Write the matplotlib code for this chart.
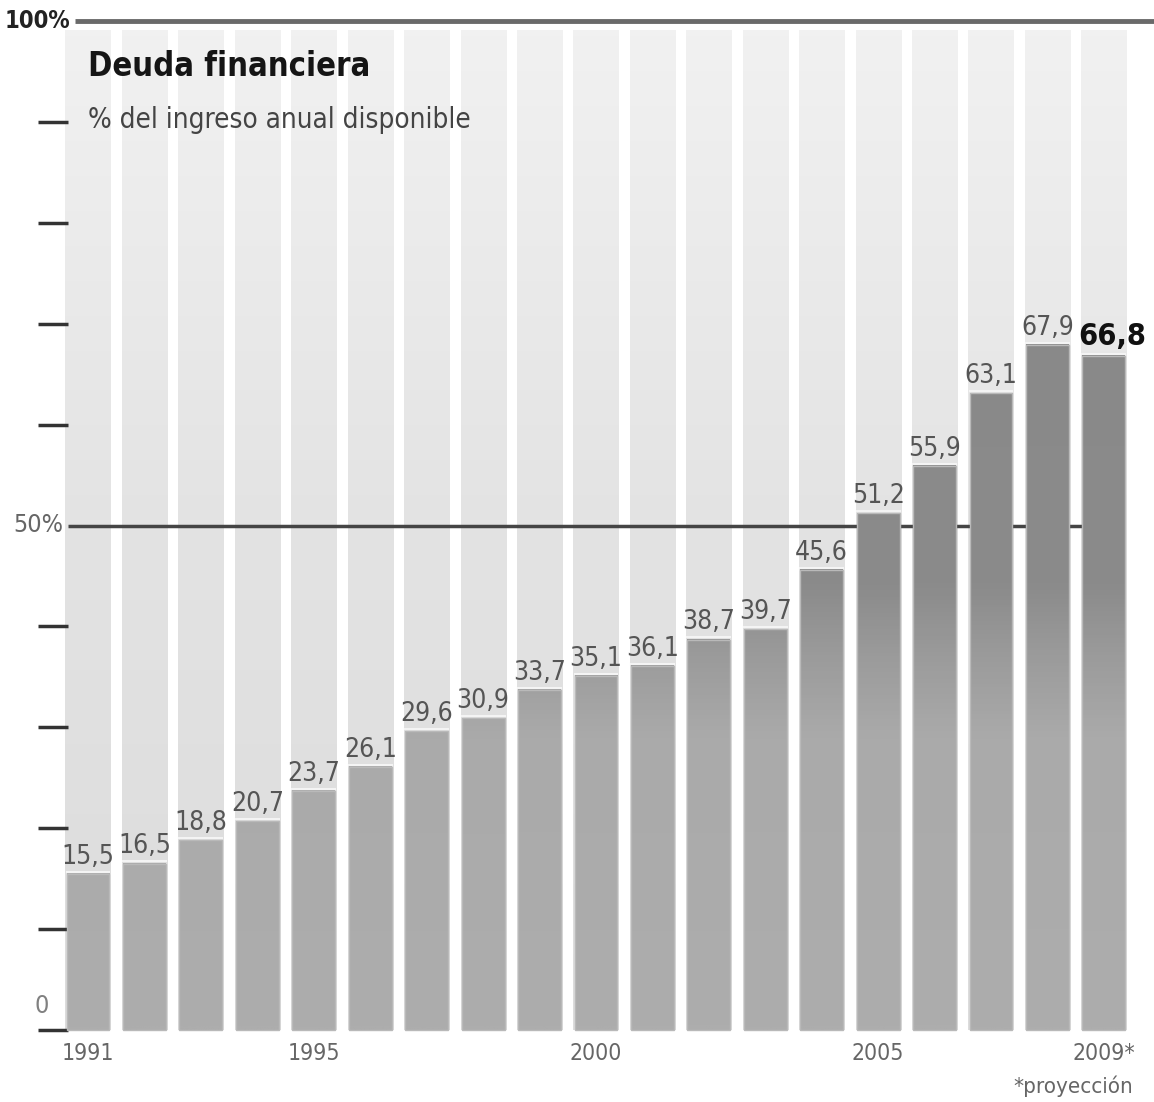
import numpy as np
import matplotlib
matplotlib.use("Agg")
import matplotlib.pyplot as plt
from matplotlib import font_manager
from matplotlib.colors import LinearSegmentedColormap

years = list(range(1991, 2010))
values = [15.5, 16.5, 18.8, 20.7, 23.7, 26.1, 29.6, 30.9, 33.7, 35.1,
          36.1, 38.7, 39.7, 45.6, 51.2, 55.9, 63.1, 67.9, 66.8]
year_labels = {1991: "1991", 1995: "1995", 2000: "2000", 2005: "2005", 2009: "2009*"}
title = "Deuda financiera"
subtitle = "% del ingreso anual disponible"
note = "*proyección"

# narrow font if one is there
names = set(f.name for f in font_manager.fontManager.ttflist)
narrow = [n for n in ['Liberation Sans Narrow', 'DejaVu Sans Condensed'] if n in names]
condensed = any(f.name == 'DejaVu Sans' and f.stretch == 'condensed'
                for f in font_manager.fontManager.ttflist)
plt.rcParams['font.family'] = narrow + ['DejaVu Sans']
if condensed and not narrow:
    plt.rcParams['font.stretch'] = 'condensed'
plt.rcParams['image.composite_image'] = False
small = 1.0 if (narrow or condensed) else 0.85

W, H = 1154, 1102
fig = plt.figure(figsize=(W / 100, H / 100), dpi=100)
ax = fig.add_axes([0, 0, 1, 1])

# pixel layout: bar 0 centred at px 88, step 56.44 px; value 0 at px 1030, 10 units = 100.9 px
step = 56.44
x0 = 88
ppu = 10.09
ybase = 1030
ax.set_xlim(-x0 / step, (W - x0) / step)
ax.set_ylim((ybase - H) / ppu, ybase / ppu)
ax.axis('off')

idx = np.arange(len(years))
bw = 0.38   # half width of the bars
bgw = 0.40  # half width of the light columns

# background columns (light gradient)
bg_cmap = LinearSegmentedColormap.from_list('bg', ['#dcdcdc', '#e3e3e3', '#f1f1f1'])
bg_top = 99.1
for i in idx:
    grad = np.linspace(0, 1, 200).reshape(-1, 1)
    ax.imshow(grad, extent=[i - bgw, i + bgw, 0, bg_top], origin='lower',
              cmap=bg_cmap, aspect='auto', zorder=1, interpolation='bilinear')

# reference lines
ax.plot([(75 - x0) / step, (W - x0) / step], [100, 100], color='#6a6a6a', lw=3.5,
        zorder=2, solid_capstyle='butt', clip_on=False)
# 50% line, hidden behind bars that go over it
segs = []
start = (68 - x0) / step
for i, v in zip(idx, values):
    if v > 50:
        segs.append((start, i - bw))
        start = i + bw
for a, b in segs:
    if b > a:
        ax.plot([a, b], [50, 50], color='#454545', lw=2.5, zorder=2, solid_capstyle='butt')

# foreground bars: gradient by height
fg_cmap = LinearSegmentedColormap.from_list(
    'fg', [(0, '#adadad'), (0.29, '#aaaaaa'), (0.37, '#9b9b9b'), (0.44, '#8b8b8b'),
           (1, '#878787')])
for i, v in zip(idx, values):
    grad = np.linspace(0, v, 300).reshape(-1, 1)
    ax.imshow(grad, extent=[i - bw, i + bw, 0, v], origin='lower', cmap=fg_cmap,
              vmin=0, vmax=100, aspect='auto', zorder=3, interpolation='bilinear')
    ax.plot([i - bw, i + bw], [v + 0.2, v + 0.2], color='#f4f4f4', lw=1.5, zorder=3)
ax.bar(idx, values, width=2 * bw, facecolor='none', edgecolor='#b9b9b9', lw=1, zorder=3.5)

# value labels
for i, v in zip(idx, values):
    s = f"{v:.1f}".replace('.', ',')
    if i == len(values) - 1:
        ax.text(i + 0.15, v + 0.5, s, ha='center', va='bottom', fontsize=22 * small,
                fontweight='bold', color='#111111', zorder=4)
    else:
        ax.text(i, v + 0.4, s, ha='center', va='bottom', fontsize=19 * small,
                color='#555555', zorder=4)

# y ticks (short dashes at left)
tx0 = (38 - x0) / step
tx1 = (68 - x0) / step
for t in range(0, 100, 10):
    if t == 50:
        continue
    ax.plot([tx0, tx1], [t, t], color='#333333', lw=2.5, solid_capstyle='butt', zorder=2)
ax.text((70 - x0) / step, 100, "100%", ha='right', va='center', fontsize=17 * small,
        fontweight='bold', color='#222222')
ax.text(tx1 - 0.08, 50, "50%", ha='right', va='center', fontsize=18 * small, color='#666666')
ax.text((34 - x0) / step, 1.2, "0", ha='left', va='bottom', fontsize=18 * small, color='#808080')

# year labels
for i, y in zip(idx, years):
    if y in year_labels:
        ax.text(i, -1.2, year_labels[y], ha='center', va='top', fontsize=16.5 * small,
                color='#666666')
ax.text((1133 - x0) / step, -4.5, note, ha='right', va='top', fontsize=16 * small,
        color='#666666')

# title block
ax.text((88 - x0) / step, (ybase - 66) / ppu, title, ha='left', va='center',
        fontsize=23.5 * small, fontweight='bold', color='#151515', zorder=5)
ax.text((88 - x0) / step, (ybase - 120) / ppu, subtitle, ha='left', va='center',
        fontsize=20 * small, color='#444444', zorder=5)

fig.savefig('out.png', dpi=100)
